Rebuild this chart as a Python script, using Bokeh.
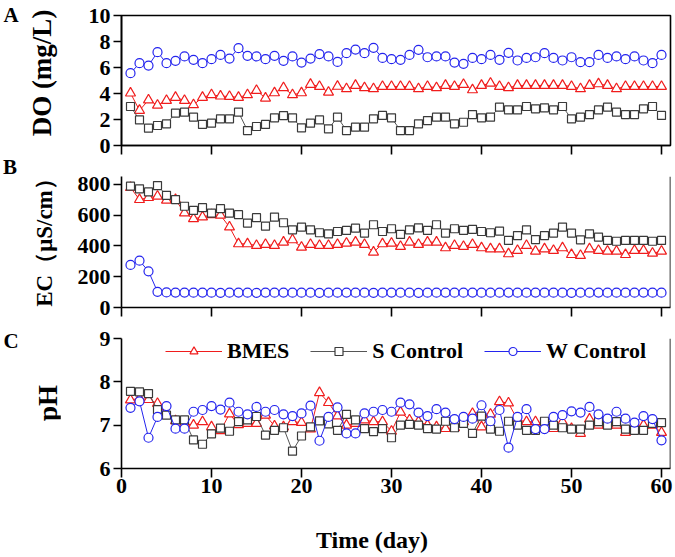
from bokeh.plotting import figure
from bokeh.layouts import column, row
from bokeh.models import Range1d, FixedTicker, Span, Legend, LegendItem, Div
from bokeh.embed import file_html
from bokeh.resources import INLINE

days = list(range(1, 61))
x_ticks = [0, 10, 20, 30, 40, 50, 60]

DO_BMES = [4.03, 2.70, 3.50, 3.10, 3.46, 3.70, 3.46, 3.13, 3.70, 3.90, 3.80, 3.77, 3.70, 3.90, 4.23, 3.64, 4.05, 4.44, 3.90, 4.05, 4.70, 4.54, 4.10, 4.55,
           4.36, 4.62, 4.44, 4.36, 4.54, 4.54, 4.54, 4.54, 4.36, 4.54, 4.44, 4.62, 4.54, 4.69, 4.28, 4.62, 4.79, 4.54, 4.44, 4.62, 4.62, 4.62, 4.62, 4.62,
           4.62, 4.54, 4.36, 4.62, 4.74, 4.62, 4.36, 4.54, 4.54, 4.54, 4.54, 4.54]
DO_S = [3.00, 1.97, 1.33, 1.54, 1.67, 2.49, 2.56, 2.18, 1.62, 1.72, 2.05, 2.05, 2.56, 1.15, 1.46, 1.62, 2.13, 2.30, 2.13, 1.36, 1.72, 1.97, 1.28, 2.18,
        1.15, 1.41, 1.41, 2.05, 2.31, 2.13, 1.15, 1.15, 1.67, 1.92, 2.18, 2.18, 1.67, 1.79, 2.38, 2.13, 2.18, 2.95, 2.74, 2.74, 3.00, 2.82, 2.90, 2.74,
        3.00, 2.05, 2.18, 2.38, 2.74, 2.95, 2.56, 2.38, 2.38, 2.82, 3.00, 2.31]
DO_W = [5.56, 6.33, 6.15, 7.18, 6.33, 6.51, 6.85, 6.59, 6.33, 6.64, 6.97, 6.69, 7.49, 6.90, 6.85, 6.64, 6.90, 6.51, 6.85, 6.38, 6.69, 7.03, 6.85, 6.43,
        7.10, 7.38, 7.10, 7.51, 6.74, 6.64, 6.59, 6.97, 7.36, 6.79, 6.85, 6.85, 6.38, 6.28, 6.74, 6.64, 6.97, 6.59, 7.13, 6.54, 6.74, 6.79, 7.10, 6.74,
        6.54, 6.79, 6.41, 6.41, 6.97, 6.74, 6.85, 6.64, 6.85, 6.54, 6.33, 6.97]

EC_BMES = [778, 700, 713, 722, 696, 700, 613, 576, 587, 602, 598, 522, 413, 413, 402, 409, 402, 424, 439, 391, 409, 402, 402, 409,
           417, 424, 409, 359, 413, 417, 396, 424, 409, 424, 424, 387, 402, 396, 409, 387, 380, 380, 348, 370, 402, 365, 380, 370,
           387, 343, 337, 380, 370, 365, 365, 343, 370, 370, 352, 365]
EC_S = [787, 770, 750, 791, 728, 700, 657, 630, 648, 613, 641, 613, 602, 548, 583, 528, 587, 550, 504, 522, 504, 485, 478, 493,
        500, 515, 483, 537, 493, 511, 474, 504, 517, 500, 537, 483, 511, 500, 507, 493, 485, 496, 435, 467, 504, 441, 467, 483,
        522, 483, 439, 478, 457, 435, 430, 435, 435, 435, 430, 435]
EC_W = [276, 304, 235, 102, 98, 97, 97, 96, 97, 96, 95, 96, 97, 96, 95, 97, 96, 97, 96, 96,
        96, 95, 96, 96, 97, 96, 96, 95, 96, 97, 96, 96, 95, 96, 96, 97, 96, 96, 97, 96,
        96, 96, 97, 96, 96, 97, 96, 96, 96, 95, 96, 96, 97, 96, 96, 96, 96, 97, 96, 96]

PH_BMES = [7.58, 7.62, 7.59, 7.50, 7.25, 7.10, 7.04, 7.00, 7.08, 6.96, 6.87, 7.26, 7.01, 7.04, 7.04, 7.23, 6.98, 6.96, 7.08, 7.06, 6.91, 7.75, 7.52, 7.21,
           7.00, 7.04, 7.12, 7.08, 7.08, 6.86, 7.30, 7.12, 7.08, 7.00, 6.96, 6.92, 6.94, 7.08, 7.27, 6.96, 7.25, 7.54, 7.51, 7.12, 7.08, 7.08, 6.92, 6.92,
           7.08, 6.92, 6.81, 7.14, 7.00, 7.00, 7.00, 6.83, 7.00, 7.00, 7.00, 6.83]
PH_S = [7.78, 7.77, 7.73, 7.36, 7.23, 7.12, 7.12, 6.66, 6.56, 6.80, 6.93, 6.86, 7.08, 7.12, 7.20, 6.77, 6.88, 6.94, 6.40, 6.75, 6.96, 7.10, 7.03, 6.88,
        7.25, 7.12, 6.92, 6.85, 6.92, 6.71, 7.00, 7.02, 7.00, 6.92, 6.91, 7.09, 6.94, 7.04, 6.81, 7.21, 6.91, 6.86, 7.09, 7.00, 6.88, 6.88, 7.09, 7.00,
        6.94, 6.91, 6.91, 7.00, 7.08, 7.00, 7.08, 6.91, 6.88, 6.88, 7.04, 7.06]
PH_W = [7.40, 7.55, 6.71, 7.19, 7.44, 6.92, 6.92, 7.31, 7.35, 7.44, 7.36, 7.52, 7.31, 7.25, 7.42, 7.31, 7.35, 7.25, 7.21, 7.27, 7.45, 6.64, 7.19, 7.41,
        6.81, 6.81, 7.27, 7.31, 7.35, 7.31, 7.52, 7.48, 7.29, 7.21, 7.37, 7.29, 7.14, 7.19, 7.15, 7.46, 7.09, 7.35, 6.48, 7.19, 7.37, 6.91, 6.91, 7.19,
        7.23, 7.32, 7.29, 7.42, 7.25, 7.15, 7.31, 7.15, 7.06, 7.21, 7.14, 6.65]

series_names = ["BMES", "S Control", "W Control"]
panel_letters = ["A", "B", "C"]
y_titles = ["DO (mg/L)", "EC（μS/cm）", "pH"]
x_title = "Time (day)"

FONT = "Liberation Serif"
RED = "#f01c1c"
GRAY = "#3a3a3a"
GRAY_LINE = "#555555"
BLUE = "#2424ee"
AXW = 1.6
XMAX = 61
SIDE_W = 60


def make_fig(height, top, bottom, yr, yticks, show_xlabels, boxed):
    p = figure(width=675 - SIDE_W, height=height, x_range=Range1d(0, XMAX), y_range=Range1d(*yr),
               output_backend="svg", toolbar_location=None,
               min_border_left=121 - SIDE_W, min_border_right=5,
               min_border_top=top, min_border_bottom=bottom)
    p.grid.visible = False
    p.outline_line_color = "black" if boxed else None
    p.outline_line_width = AXW
    for ax in (p.xaxis[0], p.yaxis[0]):
        ax.axis_line_width = AXW
        ax.axis_line_color = "black"
        ax.major_tick_line_width = AXW
        ax.major_tick_line_color = "black"
        ax.minor_tick_line_color = None
        ax.major_tick_in = 0
        ax.major_label_text_font = FONT
        ax.major_label_text_font_style = "bold"
        ax.major_label_text_color = "black"
        ax.major_label_text_font_size = "22px"
    p.xaxis.ticker = FixedTicker(ticks=x_ticks)
    p.xaxis.major_tick_out = 9
    p.yaxis.ticker = FixedTicker(ticks=yticks)
    p.yaxis.major_tick_out = 8
    p.yaxis.major_label_standoff = 3
    if show_xlabels:
        p.xaxis.major_label_standoff = 1
    else:
        p.xaxis.major_label_text_font_size = "1px"
        p.xaxis.major_label_standoff = 0
        p.xaxis.major_label_text_color = None
    if not boxed:
        p.add_layout(Span(location=XMAX, dimension="height", line_color="black", line_width=AXW))
    return p


def draw(p, ys):
    rs = []
    specs = [(RED, RED, "triangle", 10), (GRAY, GRAY_LINE, "square", 8), (BLUE, BLUE, "circle", 9)]
    for y, (mc, lc, mk, sz) in zip(ys, specs):
        l = p.line(days, y, line_color=lc, line_width=1)
        s = p.scatter(days, y, marker=mk, size=sz, line_color=mc, fill_color="white", line_width=1.2)
        rs.append((l, s))
    return rs


pA = make_fig(160, 15, 15, (0, 10), [0, 2, 4, 6, 8, 10], False, True)
pB = make_fig(162, 16, 15, (0, 850), [0, 200, 400, 600, 800], False, False)
pC = make_fig(200, 16, 54, (6, 9), [6, 7, 8, 9], True, False)

draw(pA, [DO_BMES, DO_S, DO_W])
draw(pB, [EC_BMES, EC_S, EC_W])
rC = draw(pC, [PH_BMES, PH_S, PH_W])

legend = Legend(items=[LegendItem(label=n, renderers=[l, s]) for n, (l, s) in zip(series_names, rC)],
                location=(44, 104), orientation="horizontal",
                glyph_width=57, glyph_height=20, label_standoff=5, spacing=21,
                padding=0, margin=0, border_line_color=None, background_fill_alpha=0,
                label_text_font=FONT, label_text_font_style="bold", label_text_font_size="22px",
                label_text_color="black")
pC.add_layout(legend)

BASE = ("position:absolute;white-space:nowrap;line-height:1;color:#000;"
        "font-family:'Liberation Serif',serif;font-weight:bold;")


def abs_text(text, cx, cy, size, rotate=False):
    rot = " rotate(-90deg)" if rotate else ""
    return (f'<div style="{BASE}left:{cx}px;top:{cy}px;font-size:{size}px;'
            f'transform:translate(-50%,-50%){rot};">{text}</div>')


side_html = ('<div style="position:relative;width:%dpx;height:522px;">' % SIDE_W
             + abs_text(panel_letters[0], 11, 15, 21)
             + abs_text(panel_letters[1], 10, 167, 21)
             + abs_text(panel_letters[2], 11, 341, 21)
             + abs_text(y_titles[0], 42, 73, 27, True)
             + abs_text(y_titles[1], 44, 237, 23, True)
             + abs_text(y_titles[2], 48, 403, 27, True)
             + '</div>')
bottom_html = ('<div style="position:relative;width:675px;height:35px;">'
               + abs_text(x_title, 372, 18, 24)
               + '</div>')

side = Div(text=side_html, width=SIDE_W, height=522, margin=0)
bottom = Div(text=bottom_html, width=675, height=35, margin=0)

layout = column(row(side, column(pA, pB, pC, spacing=0), spacing=0), bottom, spacing=0)
open("out.html", "w").write(file_html(layout, INLINE))
